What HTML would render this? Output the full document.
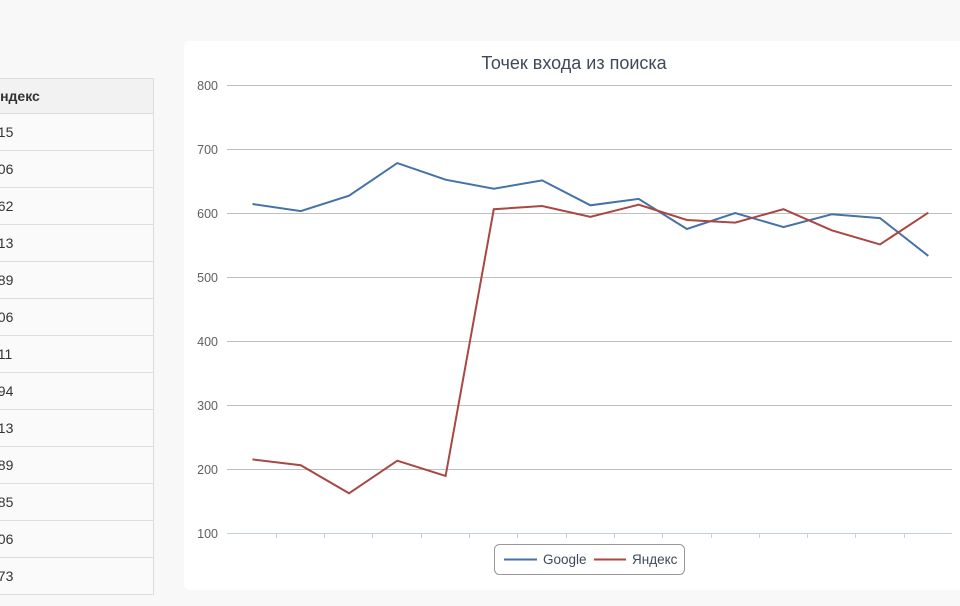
<!DOCTYPE html>
<html><head><meta charset="utf-8"><style>
html,body{margin:0;width:960px;height:606px;overflow:hidden}
body{background:#f8f8f8;font-family:"Liberation Sans","DejaVu Sans",sans-serif;position:relative}
.tbl{position:absolute;left:-19px;top:78px;width:172px;border-right:1px solid #ddd;font-size:14px;color:#333}
.tbl div{height:36px;border-bottom:1px solid #ddd;line-height:36px;padding-left:9px;background:#fafafa}
.tbl .h{font-weight:bold;background:#f2f2f2;border-top:1px solid #ddd;height:34px;line-height:34px}
.panel{position:absolute;left:184px;top:41px;width:790px;height:549px;background:#fff;border-radius:5px}
svg{position:absolute;left:0;top:0}
</style></head><body>
<div class="tbl"><div class="h">Яндекс</div><div>215</div><div>206</div><div>162</div><div>213</div><div>189</div><div>606</div><div>611</div><div>594</div><div>613</div><div>589</div><div>585</div><div>606</div><div>573</div></div>
<div class="panel"></div>
<svg width="960" height="606" font-family="Liberation Sans, DejaVu Sans, sans-serif">
<text x="574" y="69" text-anchor="middle" font-size="18" fill="#3e4a5a">Точек входа из поиска</text>
<g stroke="#c0c0c0" stroke-width="1">
<line x1="227" x2="952" y1="85.5" y2="85.5"/><line x1="227" x2="952" y1="149.5" y2="149.5"/><line x1="227" x2="952" y1="213.5" y2="213.5"/><line x1="227" x2="952" y1="277.5" y2="277.5"/><line x1="227" x2="952" y1="341.5" y2="341.5"/><line x1="227" x2="952" y1="405.5" y2="405.5"/><line x1="227" x2="952" y1="469.5" y2="469.5"/></g>
<line x1="227" x2="952" y1="533.5" y2="533.5" stroke="#c0d0e0"/>
<g stroke="#c0d0e0"><line x1="276.5" x2="276.5" y1="533" y2="538"/><line x1="324.5" x2="324.5" y1="533" y2="538"/><line x1="372.5" x2="372.5" y1="533" y2="538"/><line x1="421.5" x2="421.5" y1="533" y2="538"/><line x1="469.5" x2="469.5" y1="533" y2="538"/><line x1="517.5" x2="517.5" y1="533" y2="538"/><line x1="566.5" x2="566.5" y1="533" y2="538"/><line x1="614.5" x2="614.5" y1="533" y2="538"/><line x1="662.5" x2="662.5" y1="533" y2="538"/><line x1="711.5" x2="711.5" y1="533" y2="538"/><line x1="759.5" x2="759.5" y1="533" y2="538"/><line x1="807.5" x2="807.5" y1="533" y2="538"/><line x1="855.5" x2="855.5" y1="533" y2="538"/><line x1="904.5" x2="904.5" y1="533" y2="538"/></g>
<g font-size="12.5" fill="#606060" text-anchor="end">
<text x="218" y="90">800</text><text x="218" y="154">700</text><text x="218" y="218">600</text><text x="218" y="282">500</text><text x="218" y="346">400</text><text x="218" y="410">300</text><text x="218" y="474">200</text><text x="218" y="538">100</text></g>
<polyline fill="none" stroke="#4572a7" stroke-width="2" points="252.5,204 300.8,211.1 349,195.7 397.3,163.1 445.6,179.7 493.8,188.7 542.1,180.4 590.4,205.3 638.7,198.9 686.9,229 735.2,213 783.5,227.1 831.7,214.3 880,218.1 928.3,255.9"/>
<polyline fill="none" stroke="#aa4643" stroke-width="2" points="252.5,459.4 300.8,465.2 349,493.3 397.3,460.7 445.6,476 493.8,209.2 542.1,206 590.4,216.8 638.7,204.7 686.9,220 735.2,222.6 783.5,209.2 831.7,230.3 880,244.4 928.3,212.7"/>
<rect x="494.5" y="544.5" width="190" height="30" rx="5" fill="#fff" stroke="#999"/>
<line x1="504" x2="537" y1="559.5" y2="559.5" stroke="#4572a7" stroke-width="2"/>
<text x="543" y="564" font-size="13.5" fill="#3e4a5a">Google</text>
<line x1="594" x2="626" y1="559.5" y2="559.5" stroke="#aa4643" stroke-width="2"/>
<text x="632" y="564" font-size="13.5" fill="#3e4a5a">Яндекс</text>
</svg>
</body></html>
